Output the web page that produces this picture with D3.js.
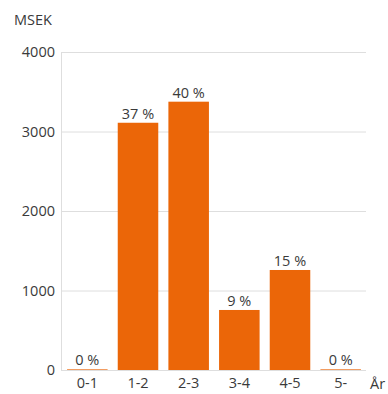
<!DOCTYPE html>
<html>
<head>
<meta charset="utf-8">
<script src="https://cdn.jsdelivr.net/npm/d3@7"></script>
<style>
  html, body { margin: 0; padding: 0; background: #fff; }
  svg text { font-family: "Open Sans", "DejaVu Sans", sans-serif; fill: #3a3a3a; }
</style>
</head>
<body>
<svg id="chart" width="388" height="394"></svg>
<script>
// Capital maturity buckets (years) and amounts in MSEK
const categories = ["0-1", "1-2", "2-3", "3-4", "4-5", "5-"];
const values = [8, 3110, 3375, 755, 1258, 8];
const shareLabels = ["0 %", "37 %", "40 %", "9 %", "15 %", "0 %"];
const yTicks = [0, 1000, 2000, 3000, 4000];

const svg = d3.select("#chart");
const plot = { left: 62, right: 366, top: 52, bottom: 370 };
const fontSize = 14.5;
const fontFamily = "'Open Sans', 'DejaVu Sans', sans-serif";

const x = d3.scaleBand()
  .domain(categories)
  .range([plot.left, plot.right])
  .paddingInner(0.2)
  .paddingOuter(0.1);

const y = d3.scaleLinear()
  .domain([0, 4000])
  .range([plot.bottom, plot.top]);

// Horizontal gridlines
svg.append("g")
  .selectAll("line")
  .data(yTicks)
  .join("line")
  .attr("x1", plot.left)
  .attr("x2", plot.right)
  .attr("y1", d => y(d) + 0.5)
  .attr("y2", d => y(d) + 0.5)
  .attr("stroke", "#dedede")
  .attr("stroke-width", 1);

// Vertical axis line
svg.append("line")
  .attr("x1", plot.left - 0.5).attr("x2", plot.left - 0.5)
  .attr("y1", plot.top).attr("y2", plot.bottom + 1)
  .attr("stroke", "#dedede");

// Y tick labels
const yAxis = d3.axisLeft(y).tickValues(yTicks).tickSize(0).tickPadding(7).tickFormat(d3.format("d"));
const gy = svg.append("g").attr("transform", `translate(${plot.left},0)`).call(yAxis);
gy.select(".domain").remove();
gy.selectAll("text").attr("font-size", fontSize).attr("fill", "#3a3a3a")
  .style("font-family", fontFamily);

// X tick labels
const xAxis = d3.axisBottom(x).tickSize(0).tickPadding(8);
const gx = svg.append("g").attr("transform", `translate(0,${plot.bottom})`).call(xAxis);
gx.select(".domain").remove();
gx.selectAll("text").attr("font-size", fontSize).attr("fill", "#3a3a3a")
  .style("font-family", fontFamily);

// Bars
svg.append("g")
  .selectAll("rect")
  .data(values)
  .join("rect")
  .attr("x", (d, i) => x(categories[i]))
  .attr("width", x.bandwidth())
  .attr("y", d => y(d))
  .attr("height", d => y(0) - y(d))
  .attr("fill", "#eb6608");

// Share labels above bars
svg.append("g")
  .selectAll("text")
  .data(values)
  .join("text")
  .attr("x", (d, i) => x(categories[i]) + x.bandwidth() / 2)
  .attr("y", d => y(d) - 4)
  .attr("text-anchor", "middle")
  .attr("font-size", fontSize)
  .text((d, i) => shareLabels[i]);

// Axis titles
svg.append("text").attr("x", 14).attr("y", 25).attr("font-size", fontSize).text("MSEK");
svg.append("text").attr("x", 370).attr("y", 389).attr("font-size", fontSize).text("År");
</script>
</body>
</html>
